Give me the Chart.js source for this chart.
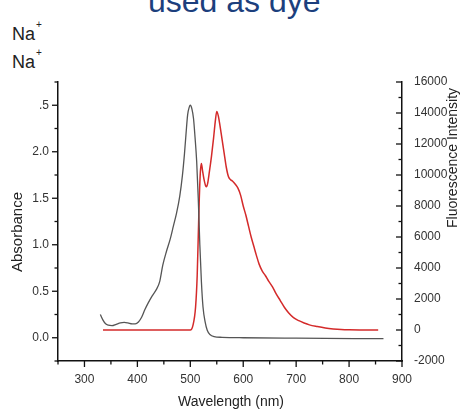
<!DOCTYPE html>
<html>
<head>
<meta charset="utf-8">
<script src="https://cdn.jsdelivr.net/npm/chart.js@4.4.1/dist/chart.umd.min.js"></script>
<style>
  html, body { margin: 0; padding: 0; background: #fff; }
  #wrap { position: relative; width: 462px; height: 410px; overflow: hidden; font-family: Arial, "Liberation Sans", sans-serif; }
  #hdr { position: absolute; left: 148px; top: -15px; font-size: 32px; line-height: 32px; color: #1c3f7d; white-space: nowrap; }
  .na { position: absolute; left: 12px; font-size: 18px; line-height: 18px; color: #222; white-space: nowrap; }
  .na sup { font-size: 10px; line-height: 10px; vertical-align: top; position: relative; top: -5px; margin-left: 1px; }
  canvas { position: absolute; left: 0; top: 0; }
</style>
</head>
<body>
<div id="wrap">
  <div id="hdr">used as dye</div>
  <div class="na" style="top:25px">Na<sup>+</sup></div>
  <div class="na" style="top:53px">Na<sup>+</sup></div>
  <canvas id="spectra" width="462" height="410"></canvas>
</div>
<script>
  // absorbance spectrum (black)
  const absWavelength = [330, 335, 340, 345, 352, 360, 368, 375, 382, 390, 396, 402, 408, 414, 420, 428, 436, 442, 448, 455,
                         462, 468, 474, 480, 485, 489, 492, 495, 498, 500, 503, 506, 509, 512, 515, 518, 521, 524, 528, 532,
                         537, 545, 560, 600, 700, 865];
  const absorbance = [0.25, 0.19, 0.15, 0.135, 0.13, 0.145, 0.16, 0.165, 0.16, 0.15, 0.15, 0.17, 0.22, 0.30, 0.37, 0.45, 0.52, 0.60, 0.78, 0.93,
                      1.06, 1.20, 1.34, 1.52, 1.74, 1.98, 2.20, 2.40, 2.48, 2.50, 2.46, 2.36, 2.15, 1.90, 1.50, 1.00, 0.60, 0.33, 0.17, 0.08,
                      0.035, 0.012, 0.005, 0.0, -0.005, -0.01];

  // fluorescence spectrum (red)
  const flWavelength = [335, 400, 500, 505, 510, 513, 515, 517, 519, 521, 523, 526, 529, 531, 533, 536, 540, 544, 547, 550,
                        553, 556, 560, 564, 568, 572, 576, 580, 585, 590, 595, 600, 605, 610, 615, 620, 625, 630, 636, 642,
                        648, 655, 662, 670, 678, 686, 695, 705, 715, 725, 740, 755, 770, 785, 800, 820, 855];
  const fluorescence = [0, 0, 0, 300, 1500, 3500, 6000, 8500, 10200, 10750, 10300, 9700, 9300, 9250, 9500, 10200, 11200, 12400, 13400, 14100,
                        13800, 13200, 12300, 11400, 10500, 9900, 9700, 9600, 9400, 9150, 8700, 8000, 7400, 6700, 6000, 5400, 4800, 4250, 3800, 3500,
                        3150, 2800, 2350, 1900, 1450, 1100, 800, 600, 450, 330, 220, 130, 70, 30, 10, 0, 0];

  const toPoints = (xs, ys) => xs.map((x, i) => ({ x: x, y: ys[i] }));

  const tickFont = { family: 'Arial, "Liberation Sans", sans-serif', size: 12 };

  // tick marks: long on labelled ticks, short on the others
  const tickMarks = {
    id: 'tickMarks',
    afterDraw(chart) {
      const ctx = chart.ctx;
      ctx.save();
      ctx.strokeStyle = '#111';
      ctx.lineWidth = 1.3;
      ['x', 'y', 'y1'].forEach(id => {
        const s = chart.scales[id];
        s.ticks.forEach(t => {
          const len = t.label !== '' ? 6 : 3.5;
          const p = s.getPixelForValue(t.value);
          ctx.beginPath();
          if (id === 'x') { ctx.moveTo(p, s.top); ctx.lineTo(p, s.top + len); }
          else if (id === 'y') { ctx.moveTo(s.right, p); ctx.lineTo(s.right - len, p); }
          else { ctx.moveTo(s.left, p); ctx.lineTo(s.left - len, p); }
          ctx.stroke();
        });
      });
      ctx.restore();
    }
  };

  // axis titles
  const axisTitles = {
    id: 'axisTitles',
    afterDraw(chart) {
      const ctx = chart.ctx;
      ctx.save();
      ctx.fillStyle = '#222';
      ctx.textAlign = 'center';
      ctx.textBaseline = 'middle';
      ctx.font = '14px Arial, "Liberation Sans", sans-serif';
      ctx.fillText('Wavelength (nm)', 231, 402);
      ctx.translate(18, 232);
      ctx.rotate(-Math.PI / 2);
      ctx.font = '15px Arial, "Liberation Sans", sans-serif';
      ctx.fillText('Absorbance', 0, 0);
      ctx.restore();
      ctx.save();
      ctx.fillStyle = '#222';
      ctx.textAlign = 'center';
      ctx.textBaseline = 'middle';
      ctx.font = '14px Arial, "Liberation Sans", sans-serif';
      ctx.translate(453, 158);
      ctx.rotate(-Math.PI / 2);
      ctx.fillText('Fluorescence Intensity', 0, 0);
      ctx.restore();
    }
  };

  new Chart(document.getElementById('spectra'), {
    type: 'scatter',
    data: {
      datasets: [{
        label: 'Absorbance',
        data: toPoints(absWavelength, absorbance),
        yAxisID: 'y',
        showLine: true,
        borderColor: '#555',
        borderWidth: 1.3,
        pointRadius: 0,
        cubicInterpolationMode: 'monotone'
      }, {
        label: 'Fluorescence',
        data: toPoints(flWavelength, fluorescence),
        yAxisID: 'y1',
        showLine: true,
        borderColor: '#d42a2a',
        borderWidth: 1.5,
        pointRadius: 0,
        cubicInterpolationMode: 'monotone'
      }]
    },
    options: {
      responsive: false,
      animation: false,
      layout: { padding: { top: 82, left: 0, right: 0, bottom: 0 } },
      plugins: { legend: { display: false }, tooltip: { enabled: false } },
      scales: {
        x: {
          type: 'linear', position: 'bottom', min: 250, max: 900,
          afterFit: s => { s.height = 49; },
          grid: { display: false },
          border: { color: '#111', width: 1.5 },
          ticks: {
            stepSize: 50, autoSkip: false, maxRotation: 0, padding: 3, color: '#333', font: tickFont,
            callback: v => (v % 100 === 0 ? String(v) : '')
          }
        },
        y: {
          position: 'left', min: -0.25, max: 2.75,
          afterFit: s => { s.width = 58; },
          grid: { display: false },
          border: { color: '#111', width: 1.5 },
          ticks: {
            stepSize: 0.25, autoSkip: false, padding: 1, color: '#333', font: tickFont,
            callback: v => {
              const r = Math.round(v * 100) / 100;
              if (r < 0 || Math.abs(r * 2 - Math.round(r * 2)) > 1e-6) return '';
              return r === 2.5 ? '.5' : r.toFixed(1);
            }
          }
        },
        y1: {
          position: 'right', min: -2000, max: 16000,
          afterFit: s => { s.width = 60; },
          grid: { display: false },
          border: { color: '#111', width: 1.5 },
          ticks: {
            stepSize: 1000, autoSkip: false, padding: 4, color: '#333', font: tickFont,
            callback: v => (v % 2000 === 0 ? String(v) : '')
          }
        }
      }
    },
    plugins: [tickMarks, axisTitles]
  });
</script>
</body>
</html>
